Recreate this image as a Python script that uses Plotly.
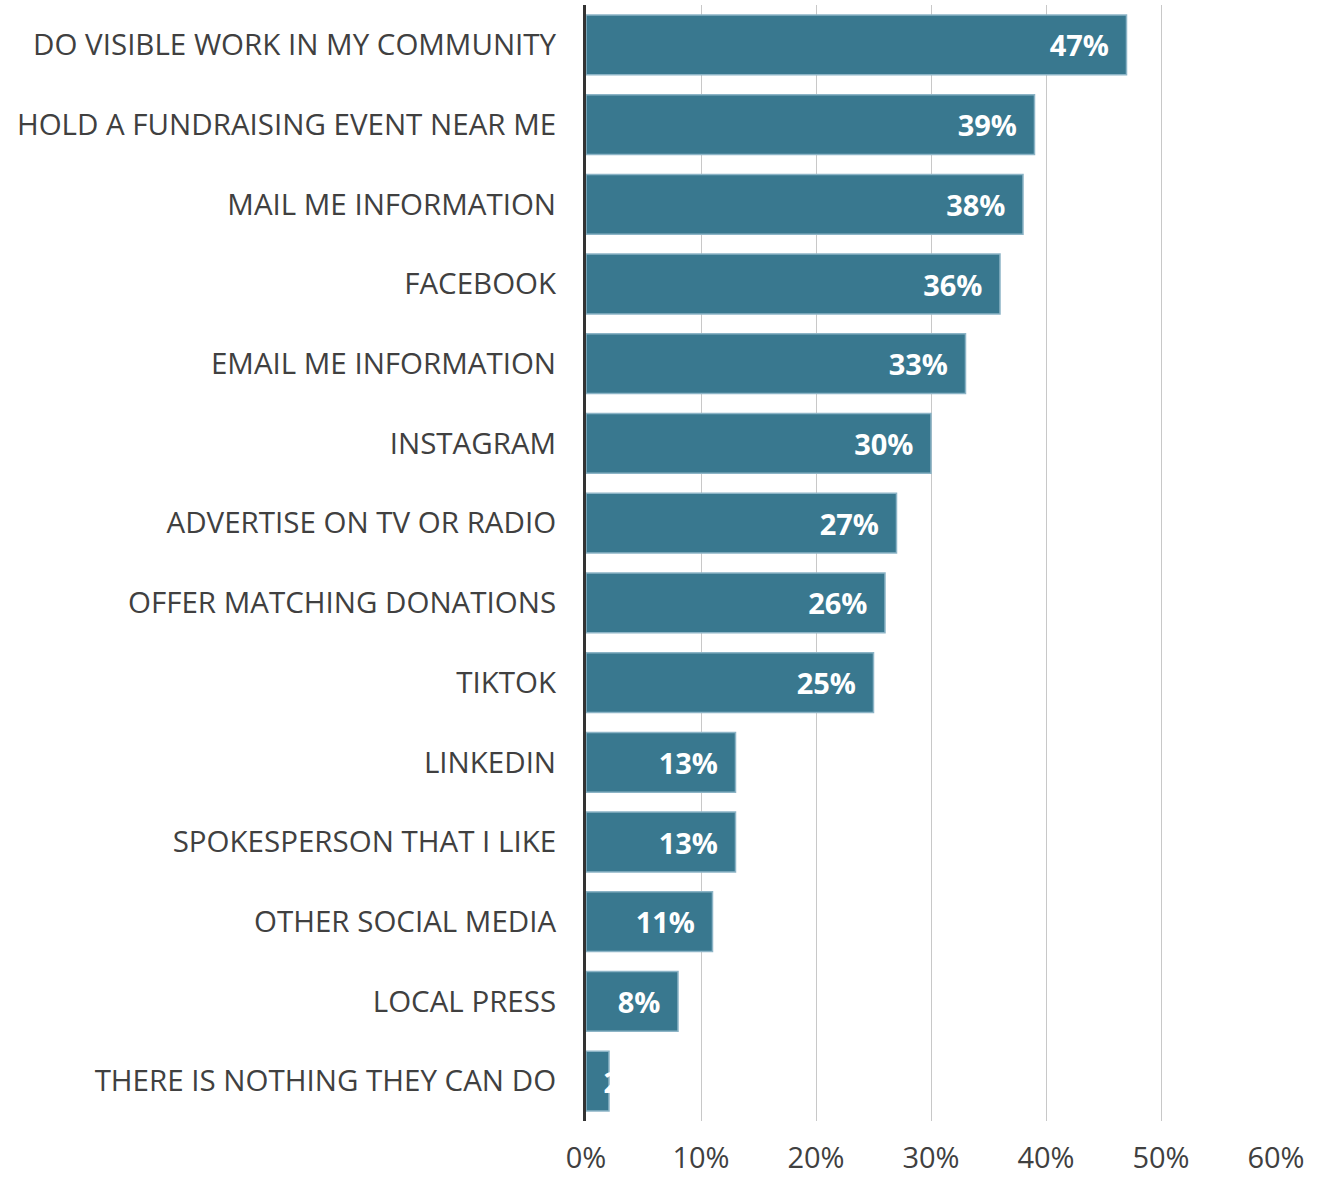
import plotly.graph_objects as go

categories = [
    "DO VISIBLE WORK IN MY COMMUNITY",
    "HOLD A FUNDRAISING EVENT NEAR ME",
    "MAIL ME INFORMATION",
    "FACEBOOK",
    "EMAIL ME INFORMATION",
    "INSTAGRAM",
    "ADVERTISE ON TV OR RADIO",
    "OFFER MATCHING DONATIONS",
    "TIKTOK",
    "LINKEDIN",
    "SPOKESPERSON THAT I LIKE",
    "OTHER SOCIAL MEDIA",
    "LOCAL PRESS",
    "THERE IS NOTHING THEY CAN DO",
]
values = [47, 39, 38, 36, 33, 30, 27, 26, 25, 13, 13, 11, 8, 2]
x_ticks = [0, 10, 20, 30, 40, 50, 60]
x_tick_labels = ["0%", "10%", "20%", "30%", "40%", "50%", "60%"]

FONT = "Open Sans"
BAR_COLOR = "#39788f"
BAR_EDGE = "#8cb4c6"
TEXT_COLOR = "#404040"

labels = [f"{v}%\u2002" for v in values]

fig = go.Figure()
# bars wide enough to hold their label
fig.add_trace(
    go.Bar(
        x=values[:-1],
        y=categories[:-1],
        orientation="h",
        marker=dict(color=BAR_COLOR, line=dict(color=BAR_EDGE, width=1.5)),
        text=labels[:-1],
        textposition="inside",
        insidetextanchor="end",
        textangle=0,
        textfont=dict(family=FONT, size=29, color="white", weight="bold"),
    )
)
# the tiny last bar: label overflows (white on white), as in the reference
fig.add_trace(
    go.Bar(
        x=values[-1:],
        y=categories[-1:],
        orientation="h",
        marker=dict(color=BAR_COLOR, line=dict(color=BAR_EDGE, width=1.5)),
        text=[f"\u2009\u2009\u2009{values[-1]}%"],
        textposition="inside",
        insidetextanchor="start",
        textangle=0,
        textfont=dict(family=FONT, size=29, color="white", weight="bold"),
    )
)

fig.update_layout(
    width=1326,
    height=1177,
    margin=dict(l=586, r=50, t=5, b=56),
    plot_bgcolor="white",
    paper_bgcolor="white",
    bargap=0.25,
    barmode="overlay",
    showlegend=False,
    uniformtext=dict(minsize=29, mode="show"),
    font=dict(family=FONT, color=TEXT_COLOR),
)

fig.update_xaxes(
    range=[0, 60],
    tickvals=x_ticks,
    ticktext=x_tick_labels,
    showgrid=True,
    gridcolor="#c8c8c8",
    gridwidth=1,
    zeroline=False,
    showline=False,
    tickfont=dict(family=FONT, size=29, color=TEXT_COLOR),
    ticks="outside",
    ticklen=11,
    tickcolor="rgba(0,0,0,0)",
    automargin=False,
)

fig.update_yaxes(
    categoryorder="array",
    categoryarray=categories,
    autorange="reversed",
    showline=True,
    linecolor="#333333",
    linewidth=3,
    showgrid=False,
    tickfont=dict(family=FONT, size=29.5, color=TEXT_COLOR),
    ticks="outside",
    ticklen=21,
    tickcolor="rgba(0,0,0,0)",
    automargin=False,
)

fig.write_html("out.html")
